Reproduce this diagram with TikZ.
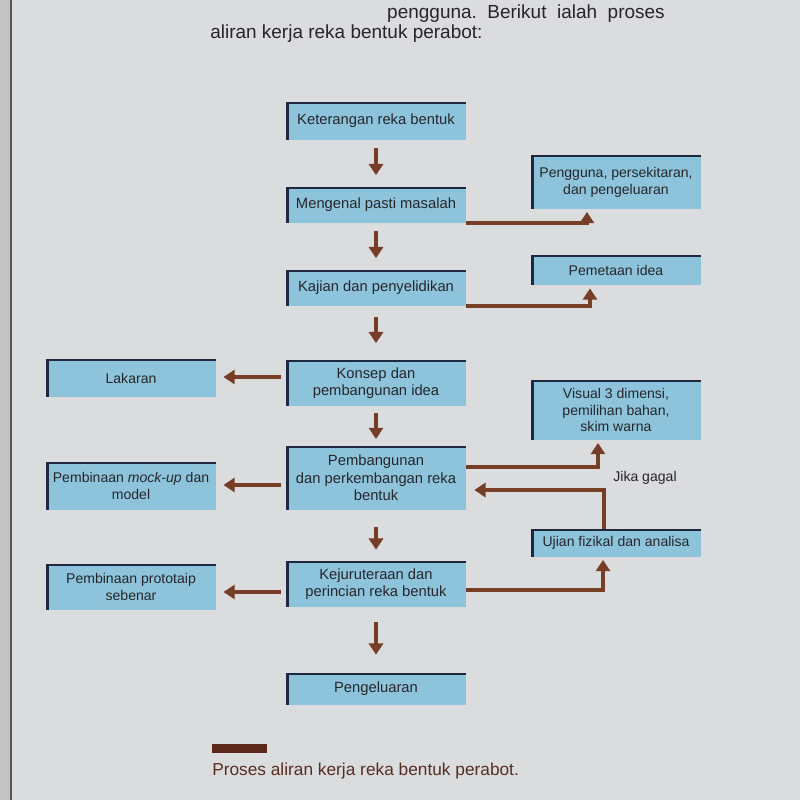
\documentclass[tikz,border=0pt]{standalone}
\usepackage{fontspec}
\setmainfont{Liberation Sans}
\usetikzlibrary{arrows.meta}

\definecolor{paper}{RGB}{219,220,222}
\definecolor{paperedge}{RGB}{196,196,198}
\definecolor{bindline}{RGB}{92,84,80}
\definecolor{boxblue}{RGB}{141,196,219}
\definecolor{boxedge}{RGB}{30,40,62}
\definecolor{flowbrown}{RGB}{118,62,38}
\definecolor{inktext}{RGB}{38,38,42}
\definecolor{legendtext}{RGB}{88,46,34}
\definecolor{legendbar}{RGB}{92,40,28}

\tikzstyle{stage} = [
    rectangle,
    fill=boxblue,
    text=inktext,
    minimum width=4.5cm,
    minimum height=0.9cm,
    inner sep=2pt,
    align=center,
    font=\fontsize{10.5}{12.5}\selectfont,
    path picture={
        \draw [boxedge, line width=4.6pt]
            (path picture bounding box.south west) -- (path picture bounding box.north west);
        \draw [boxedge, line width=2.8pt]
            (path picture bounding box.north west) -- (path picture bounding box.north east);
    }
]
\tikzstyle{side} = [
    stage,
    minimum width=4.25cm,
    font=\fontsize{10}{12}\selectfont
]
\tikzstyle{intro} = [
    inner sep=0pt,
    text=inktext,
    font=\fontsize{13.5}{16}\selectfont
]
\tikzstyle{note} = [inner sep=0pt, text=inktext, font=\fontsize{10}{12}\selectfont]
\tikzstyle{arrow} = [
    line width=3.5pt,
    flowbrown,
    -{Triangle[width=10pt,length=8pt]},
    shorten <=0.2cm,
    shorten >=0.3cm
]
\tikzstyle{link} = [
    line width=3.5pt,
    flowbrown,
    -{Triangle[width=10pt,length=8pt]},
    shorten >=0.08cm
]

\begin{document}
\begin{tikzpicture}[node distance=2.375cm]

% page of the book
\useasboundingbox (0,0) rectangle (20,-20);
\fill [paper] (0,0) rectangle (20,-20);
\fill [paperedge] (0,0) rectangle (0.27,-20);
\draw [bindline, line width=1.2pt] (0.28,0) -- (0.28,-20);

\node (introa) [intro, anchor=base east] at (16.625,-0.45)
{pengguna.\ \ Berikut\ \ ialah\ \ proses};
\node (introb) [intro, anchor=base west] at (5.25,-0.95)
{aliran kerja reka bentuk perabot:};

% main column
\node (brief) [stage, minimum height=0.925cm] at (9.4,-3.025)
{Keterangan reka bentuk};

\node (problem) [stage, node distance=2.1cm, below of=brief, minimum height=0.875cm]
{Mengenal pasti masalah};

\node (study) [stage, node distance=2.075cm, below of=problem, minimum height=0.875cm]
{Kajian dan penyelidikan};

\node (concept) [stage, node distance=2.375cm, below of=study, minimum height=1.125cm]
{Konsep dan\\pembangunan idea};

\node (develop) [stage, node distance=2.375cm, below of=concept, minimum height=1.575cm]
{Pembangunan\\dan perkembangan reka\\bentuk};

\node (engineer) [stage, node distance=2.65cm, below of=develop, minimum height=1.15cm]
{Kejuruteraan dan\\perincian reka bentuk};

\node (output) [stage, node distance=2.625cm, below of=engineer, minimum height=0.8cm]
{Pengeluaran};

% right column
\node (users) [side, node distance=6cm, right of=problem, yshift=0.575cm, minimum height=1.325cm]
{Pengguna, persekitaran,\\dan pengeluaran};

\node (ideas) [side, node distance=6cm, right of=study, yshift=0.45cm, minimum height=0.75cm]
{Pemetaan idea};

\node (visual) [side, node distance=6cm, right of=develop, yshift=1.7cm, minimum height=1.475cm]
{Visual 3 dimensi,\\pemilihan bahan,\\skim warna};

\node (testing) [side, node distance=6cm, right of=engineer, yshift=1.025cm, minimum height=0.675cm]
{Ujian fizikal dan analisa};

\node (retry) [note, node distance=1.7cm, below of=visual, xshift=0.725cm]
{Jika gagal};

% left column
\node (sketch) [side, node distance=6.125cm, left of=concept, yshift=0.125cm, minimum height=0.925cm]
{Lakaran};

\node (mockup) [side, node distance=6.125cm, left of=develop, yshift=-0.2cm, minimum height=1.2cm]
{Pembinaan \textit{mock-up} dan\\model};

\node (prototype) [side, node distance=6.125cm, left of=engineer, yshift=-0.075cm, minimum height=1.15cm]
{Pembinaan prototaip\\sebenar};

% legend
\node (key) [fill=legendbar, minimum width=1.375cm, minimum height=0.225cm, inner sep=0pt,
    anchor=north west] at (5.3,-18.6) {};
\node (keytext) [anchor=base west, inner sep=0pt, text=legendtext,
    font=\fontsize{12.3}{14}\selectfont] at (5.3,-19.375)
{Proses aliran kerja reka bentuk perabot.};

% flow down the middle
\draw [arrow] (brief) -- (problem);
\draw [arrow] (problem) -- (study);
\draw [arrow, shorten <=0.275cm, shorten >=0.425cm] (study) -- (concept);
\draw [arrow, shorten <=0.18cm, shorten >=0.18cm] (concept) -- (develop);
\draw [arrow, shorten <=0.425cm, shorten >=0.275cm] (develop) -- (engineer);
\draw [arrow, shorten <=0.375cm, shorten >=0.45cm] (engineer) -- (output);

% to the left
\draw [arrow, shorten <=0.12cm, shorten >=0.18cm]
    ([yshift=0.15cm]concept.west) -- ([yshift=0.15cm]concept.west -| sketch.east);
\draw [arrow, shorten <=0.12cm, shorten >=0.18cm]
    ([yshift=-0.175cm]develop.west) -- ([yshift=-0.175cm]develop.west -| mockup.east);
\draw [arrow, shorten <=0.12cm, shorten >=0.18cm]
    ([yshift=-0.2cm]engineer.west) -- ([yshift=-0.2cm]engineer.west -| prototype.east);

% to the right
\draw [link] ([yshift=-0.45cm]problem.east) -| ([xshift=-0.725cm]users.south);
\draw [link] ([yshift=-0.45cm]study.east) -| ([xshift=-0.65cm]ideas.south);
\draw [link] ([yshift=0.275cm]develop.east) -| ([xshift=-0.45cm]visual.south);
\draw [link] ([yshift=-0.15cm]engineer.east) -| ([xshift=-0.325cm]testing.south);
\draw [link, shorten >=0.2cm] ([xshift=-0.3cm]testing.north) |- ([yshift=-0.3cm]develop.east);

\end{tikzpicture}
\end{document}
